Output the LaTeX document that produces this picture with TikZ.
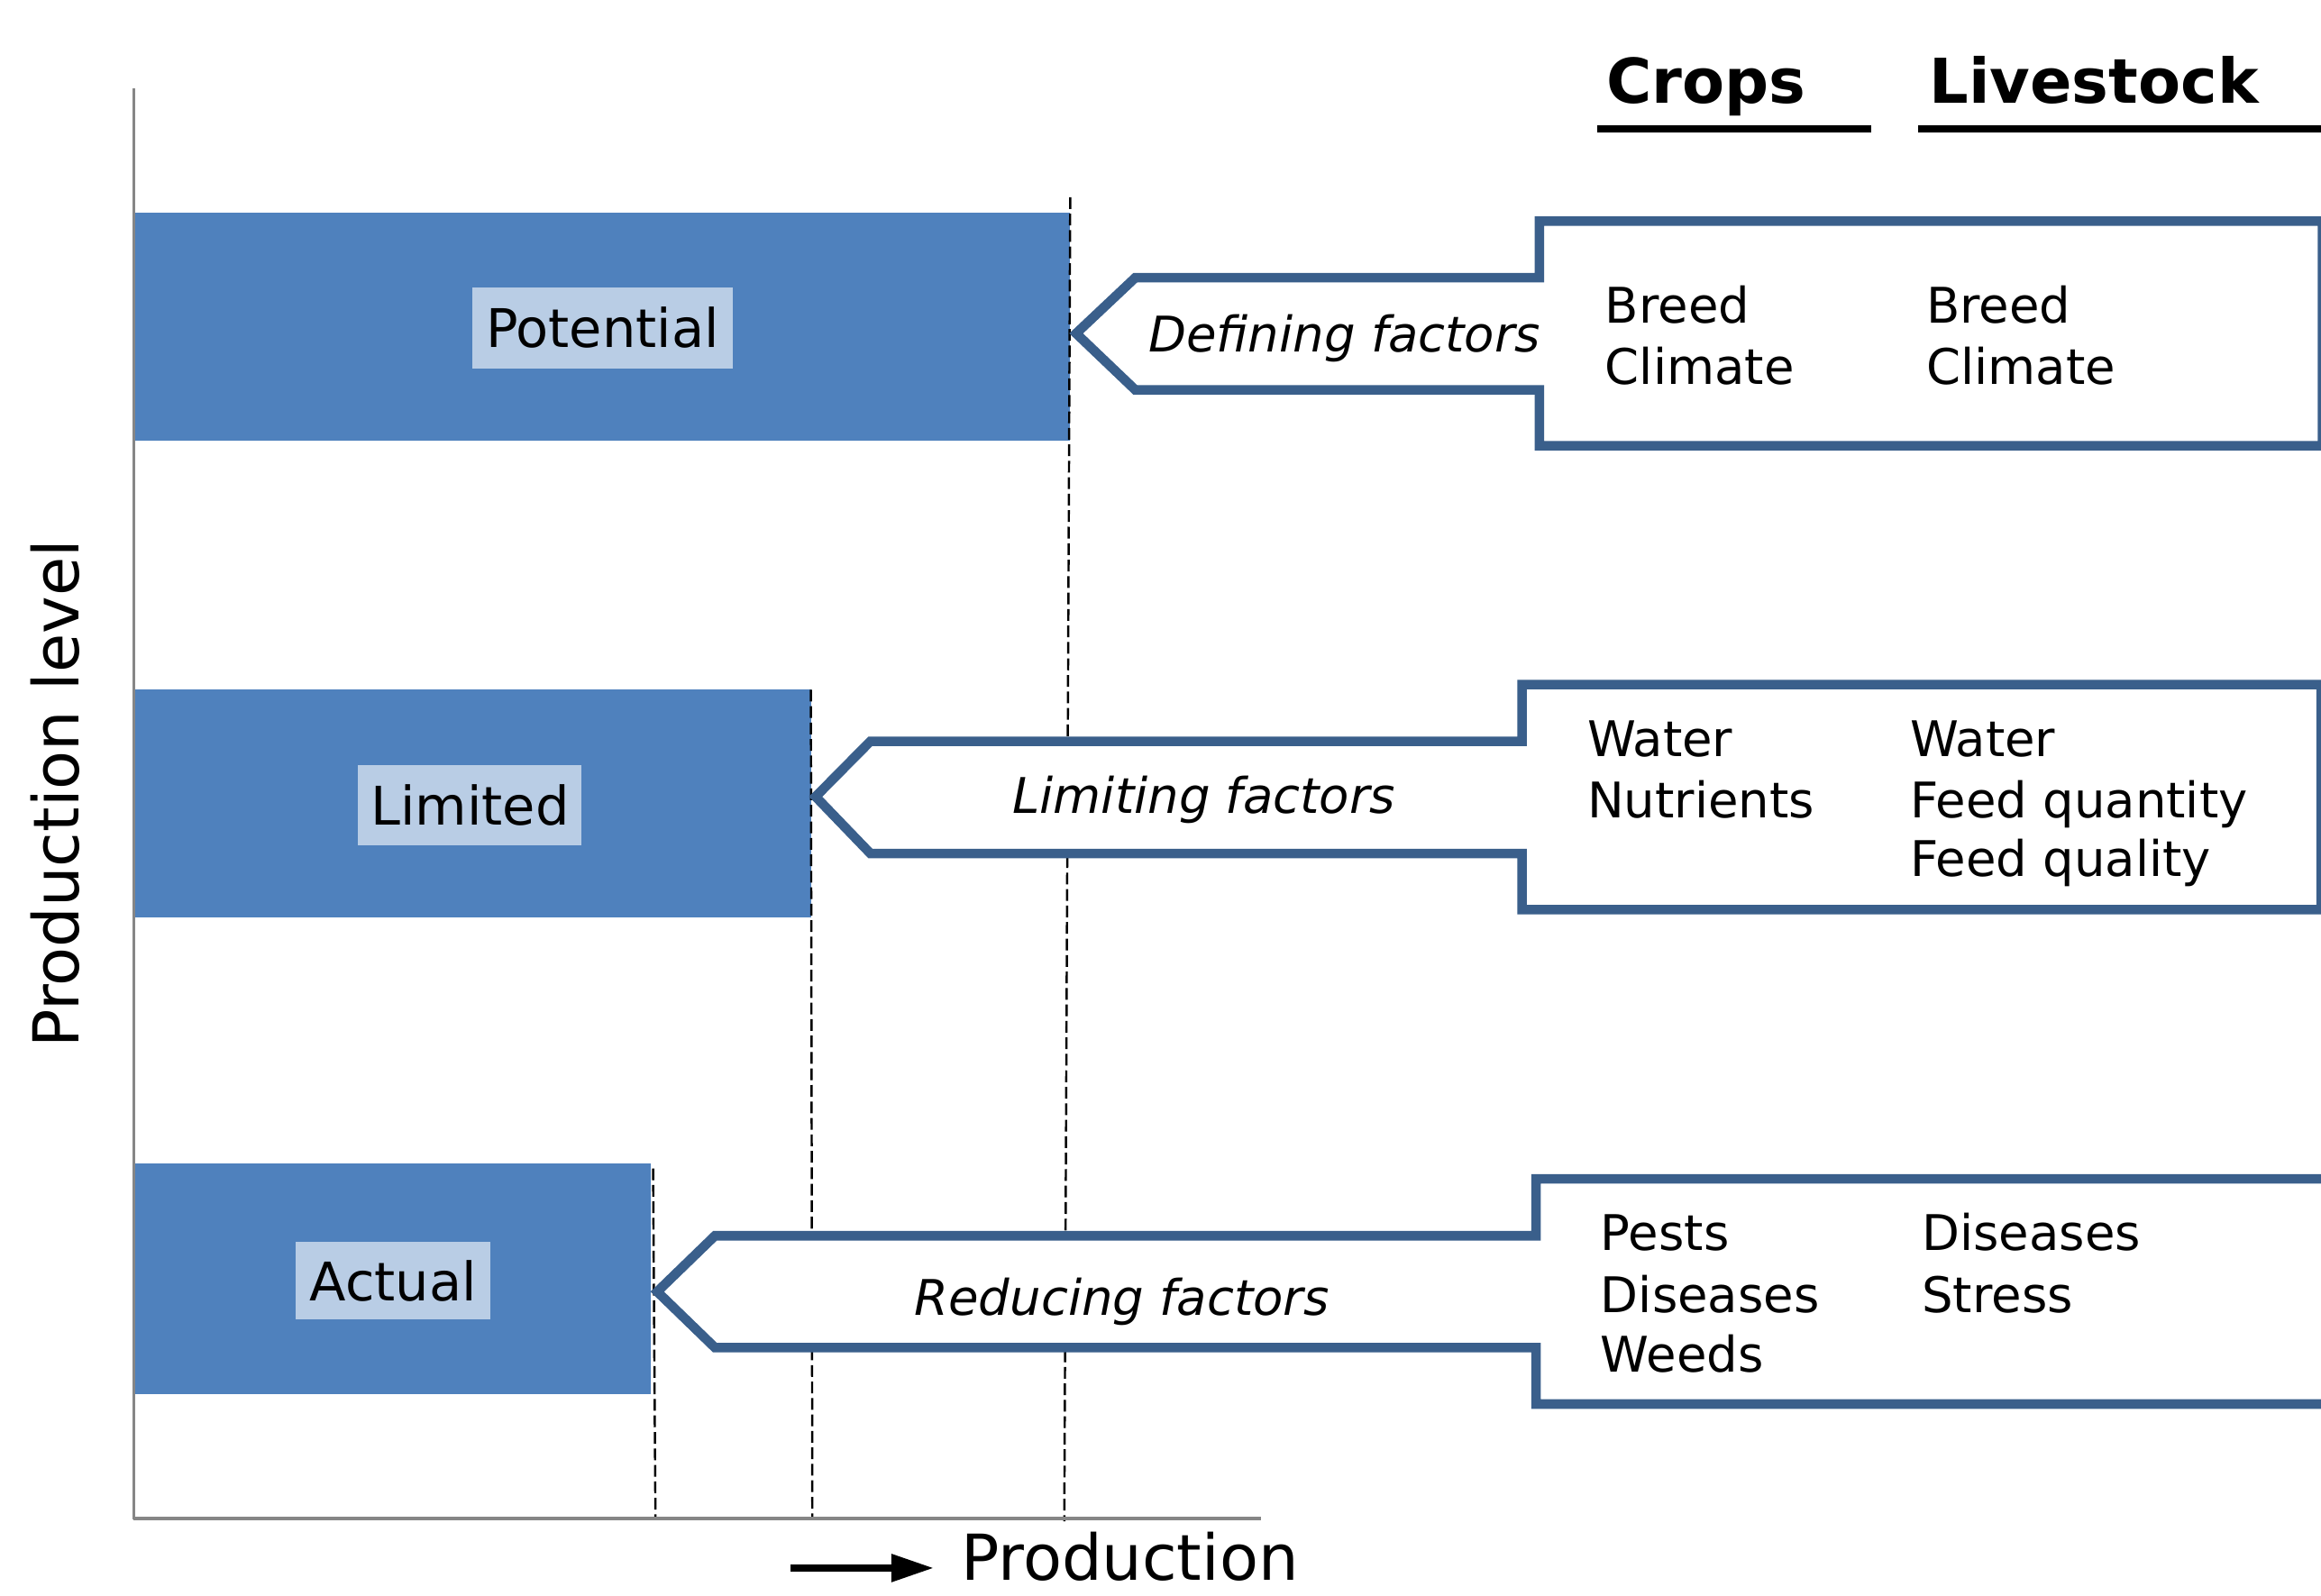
\documentclass[tikz,border=0pt]{standalone}
\usepackage{fontspec}
\setmainfont{DejaVu Sans}
\usetikzlibrary{arrows.meta}
\definecolor{barblue}{HTML}{4F81BD}
\definecolor{lblblue}{HTML}{B9CDE5}
\definecolor{edgeblue}{HTML}{3A5F8B}
\definecolor{axisgray}{HTML}{868686}
\begin{document}
\begin{tikzpicture}[x=0.016422cm,y=-0.016422cm,
  bar/.style={fill=barblue},
  lbl/.style={fill=lblblue,inner sep=0pt,font=\fontsize{16.8}{20}\selectfont},
  factor/.style={draw=edgeblue,line width=3pt,fill=white,miter limit=10,line join=miter},
  guide/.style={dash pattern=on 3.7pt off 1.5pt,line width=0.7pt},
  item/.style={anchor=base west,inner sep=0pt,font=\fontsize{15.5}{18}\selectfont},
  fac/.style={anchor=base,inner sep=0pt,font=\fontsize{15.5}{18}\selectfont\itshape},
  head/.style={anchor=base west,inner sep=0pt,font=\fontsize{19.5}{23}\selectfont\bfseries},
  axlbl/.style={inner sep=0pt,font=\fontsize{20}{24}\selectfont},
  ]
\useasboundingbox (0,0) rectangle (1568,1078);

% bars
\fill[bar] (90.3,143.8) rectangle (723,297.8);
\fill[bar] (90.3,465.8) rectangle (547.8,620);
\fill[bar] (90.3,786.3) rectangle (439.8,942.2);

% dashed guide lines
\coordinate (g1t) at (723,133.3);  \coordinate (g1b) at (719,1028);
\coordinate (g2t) at (547.8,466);  \coordinate (g2b) at (548.8,1026);
\coordinate (g3t) at (441.2,789.5);\coordinate (g3b) at (442.8,1026);
\draw[guide] (g1t) -- (g1b);
\draw[guide] (g2t) -- (g2b);
\draw[guide] (g3t) -- (g3b);

% factor arrows
\draw[factor] (727,225.3) -- (767,187.6) -- (1040,187.6) -- (1040,149.4) -- (1569,149.4)
  -- (1569,301.2) -- (1040,301.2) -- (1040,263.5) -- (767,263.5) -- cycle;
\draw[factor] (551,538.3) -- (588,500.9) -- (1028.3,500.9) -- (1028.3,462.6) -- (1568,462.6)
  -- (1568,614.7) -- (1028.3,614.7) -- (1028.3,576.7) -- (588,576.7) -- cycle;
\draw[factor] (444,872.8) -- (483,835) -- (1037.7,835) -- (1037.7,796.6) -- (1576,796.6)
  -- (1576,948.7) -- (1037.7,948.7) -- (1037.7,910.6) -- (483,910.6) -- cycle;

% level labels
\node[lbl,minimum width=82.2pt,minimum height=25.7pt] (pot) at (407,221.5) {Potential};
\node[lbl,minimum width=70.5pt,minimum height=25.2pt] (lim) at (317.5,544) {Limited};
\node[lbl,minimum width=61.4pt,minimum height=24.6pt] (act) at (265.7,865.3) {Actual};

% factor names
\node[fac] (fdef) at (908.3,238) {Defining factors};
\node[fac] (flim) at (813.3,549.7) {Limiting factors};
\node[fac] (fred) at (757.9,889) {Reducing factors};

% headers
\node[head] (hcrops) at (1085,69.7) {Crops};
\node[head] (hlive) at (1303,69.7) {Livestock};
\draw[line width=2.3pt] (1079,87) -- (1264,87);
\draw[line width=2.3pt] (1295.8,87) -- (1575,87);

% items
\node[item] (c1a) at (1084,218.2) {Breed};
\node[item] (c1b) at (1084,259.8) {Climate};
\node[item] (l1a) at (1301,218.2) {Breed};
\node[item] (l1b) at (1301,259.8) {Climate};
\node[item] (c2a) at (1072,511.5) {Water};
\node[item] (c2b) at (1072,552.5) {Nutrients};
\node[item] (l2a) at (1290,511.5) {Water};
\node[item] (l2b) at (1290,552.5) {Feed quantity};
\node[item] (l2c) at (1290,592) {Feed quality};
\node[item] (c3a) at (1081,845) {Pests};
\node[item] (c3b) at (1081,887) {Diseases};
\node[item] (c3c) at (1081,927) {Weeds};
\node[item] (l3a) at (1298,845) {Diseases};
\node[item] (l3b) at (1298,887) {Stress};

% axes
\draw[axisgray,line width=0.8pt] (90.3,59.7) -- (90.3,1026.5);
\draw[axisgray,line width=1.1pt] (89.9,1025.8) -- (851.7,1025.8);

% axis labels
\node[axlbl,anchor=base,rotate=90] (ylab) at (53,536.5) {Production level};
\coordinate (pa) at (534,1059.5);
\coordinate (pb) at (631,1059.5);
\draw[line width=2.4pt,-{Triangle[length=13.5pt,width=8.3pt]}] (pa) -- (pb);
\node[axlbl,anchor=base west] (xlab) at (649,1067.5) {Production};
\end{tikzpicture}
\end{document}
